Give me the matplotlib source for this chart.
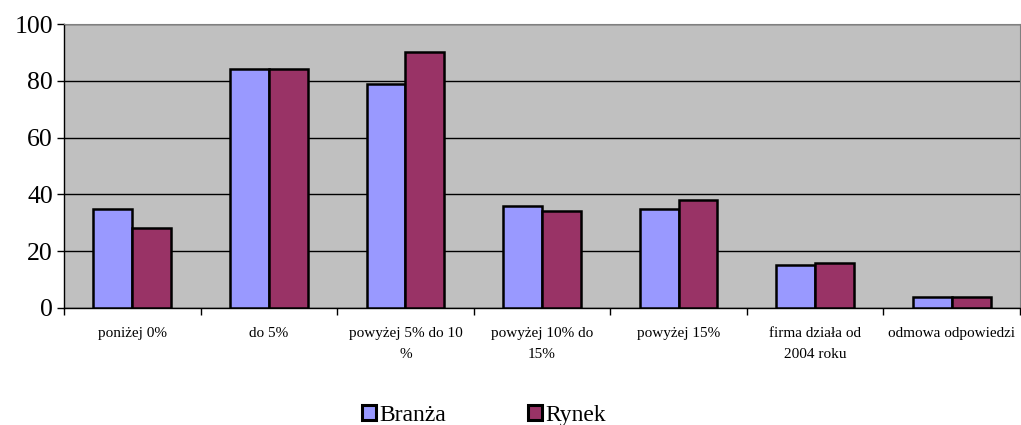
import numpy as np
import matplotlib.pyplot as plt

categories = ['poniżej 0%', 'do 5%', 'powyżej 5% do 10\n%', 'powyżej 10% do\n15%',
              'powyżej 15%', 'firma działa od\n2004 roku', 'odmowa odpowiedzi']
branza = [35, 84, 79, 36, 35, 15, 4]
rynek = [28, 84, 90, 34, 38, 16, 4]

plt.rcParams['font.family'] = ['Liberation Serif', 'DejaVu Serif']

fig = plt.figure(figsize=(10.21, 4.25), dpi=100)
ax = fig.add_axes([0.0627, 0.2753, 0.9363, 0.6682])
ax.set_facecolor('#c0c0c0')

x = np.arange(len(categories))
w = 0.285
ax.bar(x - w / 2, branza, w, color='#9999ff', edgecolor='black', linewidth=1.8,
       label='Branża', zorder=3)
ax.bar(x + w / 2, rynek, w, color='#993366', edgecolor='black', linewidth=1.8,
       label='Rynek', zorder=3)

ax.set_xlim(-0.5, len(categories) - 0.5)
ax.set_ylim(0, 100)
ax.set_yticks([0, 20, 40, 60, 80, 100])
ax.tick_params(axis='y', labelsize=18.5, length=5, width=1, pad=3)
ax.yaxis.grid(True, color='black', linewidth=1, zorder=1)
ax.set_axisbelow(True)

# category labels centred, tick marks between categories
ax.set_xticks(x)
ax.set_xticklabels(categories, fontsize=11, linespacing=1.75)
ax.tick_params(axis='x', length=0, pad=14)
ax.set_xticks(np.arange(-0.5, len(categories)), minor=True)
ax.tick_params(axis='x', which='minor', length=5, width=1)

for s in ['top', 'right']:
    ax.spines[s].set_color('#808080')
ax.spines['left'].set_linewidth(1)
ax.spines['bottom'].set_linewidth(1)

leg = fig.legend(loc='lower center', bbox_to_anchor=(0.474, -0.052), ncol=2, frameon=False,
                 fontsize=17, handlelength=0.6, handleheight=0.6, handletextpad=0.15,
                 columnspacing=3.45)
for h in leg.legend_handles:
    h.set_linewidth(2.2)

fig.savefig('out.png', dpi=100)
